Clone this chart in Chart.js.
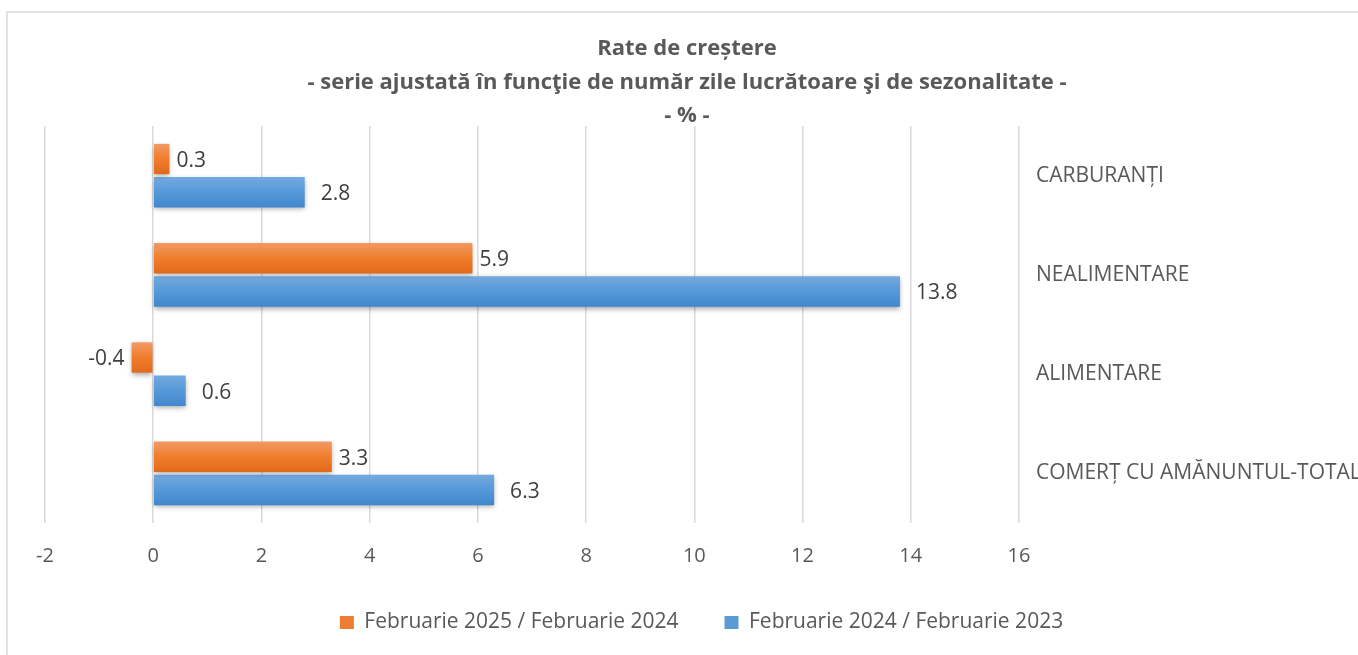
<!DOCTYPE html>
<html>
<head>
<meta charset="utf-8">
<script src="https://cdn.jsdelivr.net/npm/chart.js@4.4.0/dist/chart.umd.min.js"></script>
<style>
  html, body { margin: 0; padding: 0; background: #fff; }
</style>
</head>
<body>
<canvas id="rateChart" width="1358" height="655"></canvas>
<script>
// date
const categorii = ['CARBURANȚI', 'NEALIMENTARE', 'ALIMENTARE', 'COMERȚ CU AMĂNUNTUL-TOTAL'];
const feb2025 = [0.3, 5.9, -0.4, 3.3];
const feb2024 = [2.8, 13.8, 0.6, 6.3];
const numeSerii = ['Februarie 2025 / Februarie 2024', 'Februarie 2024 / Februarie 2023'];
const titlu = [
  'Rate de creștere',
  '- serie ajustată în funcţie de număr zile lucrătoare şi de sezonalitate -',
  '- % -'
];
const axaMin = -2;
const axaMax = 16;
const pasAxa = 2;

Chart.defaults.font.family = '"Open Sans", sans-serif';

// titlul pe trei randuri (centrat ca in original, putin spre dreapta)
const titluGrafic = {
  id: 'titluGrafic',
  afterDraw(chart) {
    const ctx = chart.ctx;
    ctx.save();
    ctx.font = 'bold 22px "Open Sans", sans-serif';
    ctx.fillStyle = '#595959';
    ctx.textAlign = 'center';
    ctx.textBaseline = 'middle';
    const cx = chart.width / 2 + 8;
    titlu.forEach((rand, i) => ctx.fillText(rand, cx, 49 + i * 33.5));
    ctx.restore();
  }
};

// gradient vertical + umbra pe bare
const bareStil = {
  id: 'bareStil',
  beforeDatasetDraw(chart, args) {
    const ctx = chart.ctx;
    const culori = chart.data.datasets[args.index].gradient;
    args.meta.data.forEach(bar => {
      const sus = bar.y - bar.height / 2;
      const g = ctx.createLinearGradient(0, sus, 0, sus + bar.height);
      g.addColorStop(0, culori[0]);
      g.addColorStop(0.5, culori[1]);
      g.addColorStop(1, culori[2]);
      bar.options.backgroundColor = g;
    });
    ctx.save();
    ctx.shadowColor = 'rgba(0,0,0,0.35)';
    ctx.shadowBlur = 5;
    ctx.shadowOffsetY = 2;
  },
  afterDatasetDraw(chart) {
    chart.ctx.restore();
  }
};

// etichetele valorilor langa capatul barelor
const eticheteValori = {
  id: 'eticheteValori',
  afterDatasetsDraw(chart) {
    const ctx = chart.ctx;
    ctx.save();
    ctx.font = '21px "Open Sans", sans-serif';
    ctx.fillStyle = '#404040';
    ctx.textBaseline = 'middle';
    chart.data.datasets.forEach((ds, i) => {
      chart.getDatasetMeta(i).data.forEach((bar, j) => {
        const v = ds.data[j];
        if (v >= 0) {
          ctx.textAlign = 'left';
          ctx.fillText(v.toFixed(1), bar.x + ds.offsetEticheta, bar.y + 2);
        } else {
          ctx.textAlign = 'right';
          ctx.fillText(v.toFixed(1), bar.x - ds.offsetEticheta, bar.y + 2);
        }
      });
    });
    ctx.restore();
  }
};

// chenarul gri al graficului
const chenar = {
  id: 'chenar',
  beforeDraw(chart) {
    const ctx = chart.ctx;
    ctx.save();
    ctx.strokeStyle = '#d9d9d9';
    ctx.lineWidth = 1.5;
    ctx.beginPath();
    ctx.moveTo(7, chart.height + 5);
    ctx.lineTo(7, 12);
    ctx.lineTo(chart.width + 5, 12);
    ctx.stroke();
    ctx.restore();
  }
};

new Chart(document.getElementById('rateChart'), {
  type: 'bar',
  data: {
    labels: categorii,
    datasets: [
      {
        label: numeSerii[0],
        data: feb2025,
        backgroundColor: () => '#ED7D31',
        gradient: ['#F29A64', '#F07D2C', '#E2691B'],
        offsetEticheta: 7,
        categoryPercentage: 0.67,
        barPercentage: 0.91
      },
      {
        label: numeSerii[1],
        data: feb2024,
        backgroundColor: () => '#5B9BD5',
        gradient: ['#74A9DF', '#5599D9', '#4287CD'],
        offsetEticheta: 16,
        categoryPercentage: 0.67,
        barPercentage: 0.91
      }
    ]
  },
  options: {
    responsive: false,
    animation: false,
    indexAxis: 'y',
    layout: { padding: { left: 45, right: 0, top: 126, bottom: 12 } },
    plugins: {
      title: { display: false },
      legend: {
        position: 'bottom',
        labels: {
          boxWidth: 14,
          boxHeight: 13,
          padding: 46,
          color: '#595959',
          font: { size: 21 }
        }
      },
      tooltip: { enabled: false }
    },
    scales: {
      x: {
        min: axaMin,
        max: axaMax,
        ticks: { stepSize: pasAxa, color: '#595959', font: { size: 20 }, padding: 21 },
        grid: { color: '#d9d9d9', lineWidth: 1.5, drawTicks: false },
        border: { display: false },
        afterFit(scale) { scale.height = 43; }
      },
      y: {
        position: 'right',
        grid: { display: false },
        border: { display: false },
        ticks: { color: '#595959', font: { size: 21 }, padding: 9 },
        afterFit(scale) { scale.width = 339; }
      }
    }
  },
  plugins: [chenar, bareStil, eticheteValori, titluGrafic]
});
</script>
</body>
</html>
